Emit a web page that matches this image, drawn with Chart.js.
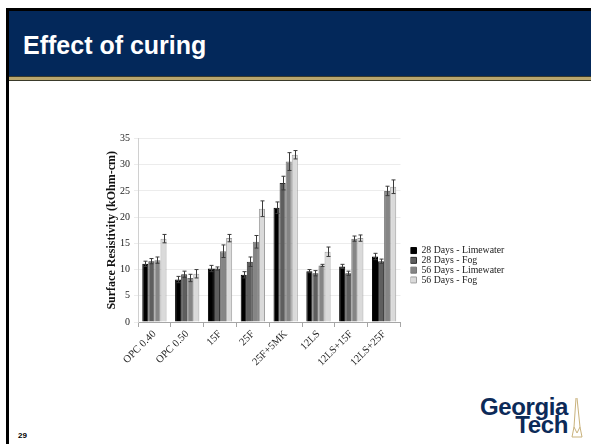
<!DOCTYPE html>
<html>
<head>
<meta charset="utf-8">
<script src="https://cdn.jsdelivr.net/npm/chart.js@4.4.0/dist/chart.umd.min.js"></script>
<style>
  html, body { margin: 0; padding: 0; background: #fff; }
  #slide { position: relative; width: 591px; height: 444px; overflow: hidden; background: #fff; font-family: "Liberation Sans", Arial, sans-serif; }
  .topline { position: absolute; left: 6px; right: 0; top: 8px; height: 3px; background: #000; }
  .leftline { position: absolute; left: 6px; top: 8px; width: 3px; bottom: 0; background: #000; }
  .header { position: absolute; left: 9px; right: 0; top: 11px; height: 65px; background: #03285a; }
  .gold { position: absolute; left: 9px; right: 0; top: 76px; height: 3px; background: #b9a66d; border-top: 1px solid #3a3a2a; border-bottom: 1px solid #3a3a2a; }
  .title { position: absolute; left: 23px; top: 33px; font-size: 25px; line-height: 24px; font-weight: bold; color: #fff; white-space: nowrap; }
  .pagenum { position: absolute; left: 18px; top: 431px; font-size: 8px; font-weight: bold; color: #000; }
  .logo { position: absolute; right: 23px; top: 398px; text-align: right; font-weight: bold; color: #0c2a58; font-size: 24px; line-height: 18px; letter-spacing: -0.4px; }
  .spire { position: absolute; left: 571px; top: 397px; }
  #chartBox { position: absolute; left: 100px; top: 120px; width: 430px; height: 272px; }
</style>
</head>
<body>
<div id="slide">
  <div class="header"></div>
  <div class="gold"></div>
  <div class="topline"></div>
  <div class="leftline"></div>
  <div class="title">Effect of curing</div>
  <div id="chartBox"><canvas id="chart"></canvas></div>
  <div class="pagenum">29</div>
  <div class="logo">Georgia<br>Tech</div>
  <svg class="spire" width="12" height="42" viewBox="0 0 12 42">
    <polyline points="5,1 3,30 1,40 11,40 9,30 6,1" fill="none" stroke="#c9b27c" stroke-width="1"/>
    <polyline points="3,30 6,36 9,30" fill="none" stroke="#c9b27c" stroke-width="1"/>
  </svg>
</div>

<script>
// ===== DADOS =====
const categories = ['OPC 0.40', 'OPC 0.50', '15F', '25F', '25F+5MK', '12LS', '12LS+15F', '12LS+25F'];

const lime28    = [11.1, 8.1, 10.2, 9.0, 21.8, 9.7, 10.6, 12.5];
const lime28Err = [0.5, 0.6, 0.6, 0.6, 1.1, 0.3, 0.4, 0.6];
const fog28     = [11.6, 9.1, 10.2, 11.5, 26.5, 9.3, 9.3, 11.6];
const fog28Err  = [0.5, 0.6, 0.3, 0.9, 1.3, 0.5, 0.4, 0.4];
const lime56    = [11.8, 8.4, 13.5, 15.3, 30.6, 10.8, 15.9, 25.0];
const lime56Err = [0.6, 0.7, 1.2, 1.2, 1.7, 0.2, 0.5, 0.9];
const fog56     = [15.9, 9.2, 16.0, 21.6, 31.9, 13.4, 16.0, 25.8];
const fog56Err  = [0.8, 0.8, 0.7, 1.5, 0.8, 0.9, 0.6, 1.3];

const yMax  = 35;
const yStep = 5;

const serif = '"Liberation Serif", "Times New Roman", serif';

// ===== BARRAS DE ERRO =====
const errorBars = {
    id: 'errorBars',
    afterDatasetsDraw(chart) {
        const ctx = chart.ctx;
        const y = chart.scales.y;
        ctx.save();
        ctx.strokeStyle = '#3a3a3a';
        ctx.lineWidth = 1;
        chart.data.datasets.forEach((ds, di) => {
            const meta = chart.getDatasetMeta(di);
            meta.data.forEach((bar, i) => {
                const v = ds.data[i], e = ds.errors[i];
                const x = Math.round(bar.x) + 0.5;
                const top = y.getPixelForValue(v + e);
                const bot = y.getPixelForValue(v - e);
                ctx.beginPath();
                ctx.moveTo(x, top); ctx.lineTo(x, bot);
                ctx.moveTo(x - 2, top); ctx.lineTo(x + 2, top);
                ctx.moveTo(x - 2, bot); ctx.lineTo(x + 2, bot);
                ctx.stroke();
            });
        });
        ctx.restore();
    }
};

// espaço entre a área do gráfico e a legenda
const legendGap = {
    id: 'legendGap',
    afterInit(chart) {
        const lg = chart.legend;
        if (!lg) return;
        const gap = 10;
        const fit = lg.fit;
        lg.fit = function () { fit.call(this); this.width += gap; };
        const draw = lg.draw;
        lg.draw = function (area) {
            const c = this.ctx;
            c.save();
            c.translate(gap, 0);
            draw.call(this, area);
            c.restore();
        };
    }
};

new Chart(document.getElementById('chart'), {
    type: 'bar',
    data: {
        labels: categories,
        datasets: [
            { label: '28 Days - Limewater', data: lime28, errors: lime28Err, backgroundColor: '#000000', borderColor: '#000000', borderWidth: 1 },
            { label: '28 Days - Fog',       data: fog28,  errors: fog28Err,  backgroundColor: '#5e5e5e', borderColor: '#2e2e2e', borderWidth: 1 },
            { label: '56 Days - Limewater', data: lime56, errors: lime56Err, backgroundColor: '#858585', borderColor: '#747474', borderWidth: 1 },
            { label: '56 Days - Fog',       data: fog56,  errors: fog56Err,  backgroundColor: '#dadada', borderColor: '#a0a0a0', borderWidth: 1 }
        ]
    },
    options: {
        responsive: true,
        maintainAspectRatio: false,
        animation: false,
        devicePixelRatio: 1,
        layout: { padding: { top: 18.5, left: 0, right: 16, bottom: 0 } },
        datasets: { bar: { categoryPercentage: 0.74, barPercentage: 1.0 } },
        plugins: {
            legend: {
                position: 'right',
                align: 'center',
                labels: {
                    color: '#222',
                    font: { family: serif, size: 9.8 },
                    boxWidth: 6,
                    boxHeight: 6,
                    padding: 0
                }
            },
            tooltip: { enabled: false }
        },
        scales: {
            x: {
                grid: { offset: true, drawOnChartArea: false, drawTicks: true, tickLength: 5, color: '#a6a6a6' },
                border: { color: '#a6a6a6' },
                ticks: {
                    color: '#222',
                    font: { family: serif, size: 10.5 },
                    minRotation: 45,
                    maxRotation: 45,
                    padding: 1,
                    autoSkip: false
                },
                afterFit: s => { s.height = 70; }
            },
            y: {
                min: 0,
                max: yMax,
                ticks: { stepSize: yStep, color: '#222', font: { family: serif, size: 10 }, padding: 4 },
                grid: { color: '#ececec', tickLength: 4 },
                border: { color: '#d0d0d0' },
                title: {
                    display: true,
                    text: 'Surface Resistivity (kOhm-cm)',
                    color: '#111',
                    font: { family: serif, size: 12, weight: 'bold' },
                    padding: { top: 5, bottom: 0 }
                },
                afterFit: s => { s.width = 38; }
            }
        }
    },
    plugins: [errorBars, legendGap]
});
</script>
</body>
</html>
